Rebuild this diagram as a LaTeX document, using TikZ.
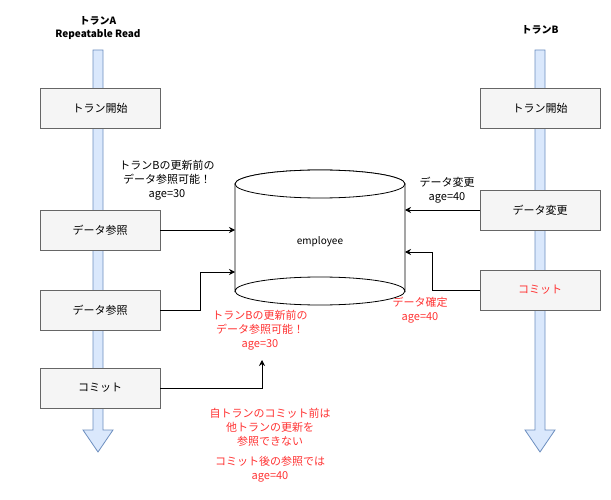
\documentclass[tikz,border=0pt]{standalone}
\usepackage{fontspec}
\setmainfont{Noto Sans CJK JP}
\usetikzlibrary{shapes.geometric,arrows.meta}
\definecolor{boxfill}{HTML}{F5F5F5}
\definecolor{boxline}{HTML}{666666}
\definecolor{lblue}{HTML}{DAE8FC}
\definecolor{dblue}{HTML}{6C8EBF}
\definecolor{myred}{HTML}{FF3333}
\begin{document}
\begin{tikzpicture}[x=1pt,y=-1pt,
  stepbox/.style={draw=boxline,fill=boxfill,minimum width=120pt,minimum height=40pt,font=\fontsize{11}{13}\selectfont},
  lbl/.style={align=center,font=\fontsize{11}{14}\selectfont},
  conn/.style={-{Stealth[length=6pt,width=6pt]},line width=0.8pt},
  tl/.style={fill=lblue,draw=dblue,line width=0.8pt}]
\useasboundingbox (0,0) rectangle (611,500);
% timelines
\draw[tl] (93,50) -- (103,50) -- (103,430) -- (113,430) -- (98,452) -- (83,430) -- (93,430) -- cycle;
\draw[tl] (535,50) -- (545,50) -- (545,430) -- (555,430) -- (540,452) -- (525,430) -- (535,430) -- cycle;
\node[font=\bfseries\fontsize{10}{13}\selectfont,align=center] (ta) at (98,28) {トランA\\Repeatable Read};
\node[font=\bfseries\fontsize{10}{13}\selectfont] (tb) at (540,30) {トランB};
% boxes
\node[stepbox] (a1) at (100,108) {トラン開始};
\node[stepbox] (a2) at (100,230) {データ参照};
\node[stepbox] (a3) at (100,310) {データ参照};
\node[stepbox] (a4) at (100,388) {コミット};
\node[stepbox] (b1) at (540,108) {トラン開始};
\node[stepbox] (b2) at (540,210) {データ変更};
\node[stepbox,text=myred] (b3) at (540,290) {コミット};
% cylinder
\draw[fill=white,line width=0.8pt] (235,184) arc[start angle=180,end angle=360,x radius=85pt,y radius=-14pt] -- (405,291) arc[start angle=0,end angle=-180,x radius=85pt,y radius=-14pt] -- cycle;
\draw[fill=white,line width=0.8pt] (320,184) ellipse[x radius=85pt,y radius=14pt];
\draw[line width=0.8pt] (235,291) arc[start angle=180,end angle=360,x radius=85pt,y radius=14pt];
\node[font=\fontsize{10}{12}\selectfont] (db) at (320,242) {employee};
\coordinate (c1) at (235,230);
\coordinate (c2) at (235,272);
\coordinate (c3) at (405,210);
\coordinate (c4) at (405,252);
\coordinate (e3) at (262,360);
\draw[conn] (a2.east) -- (c1);
\draw[conn] (a3.east) -- (200,310) -- (200,272) -- (c2);
\draw[conn] (a4.east) -- (262,388) -- (e3);
\draw[conn] (b2.west) -- (c3);
\draw[conn] (b3.west) -- (432,290) -- (432,252) -- (c4);
% labels
\node[lbl] (l1) at (167,180) {トランBの更新前の\\データ参照可能！\\age=30};
\node[lbl] (l2) at (447,190) {データ変更\\age=40};
\node[lbl,text=myred] (l3) at (420,310) {データ確定\\age=40};
\node[lbl,text=myred] (l4) at (260,330) {トランBの更新前の\\データ参照可能！\\age=30};
\node[lbl,text=myred] (l5) at (270,445) {自トランのコミット前は\\他トランの更新を\\参照できない\\[6pt]コミット後の参照では\\age=40};
\end{tikzpicture}
\end{document}
